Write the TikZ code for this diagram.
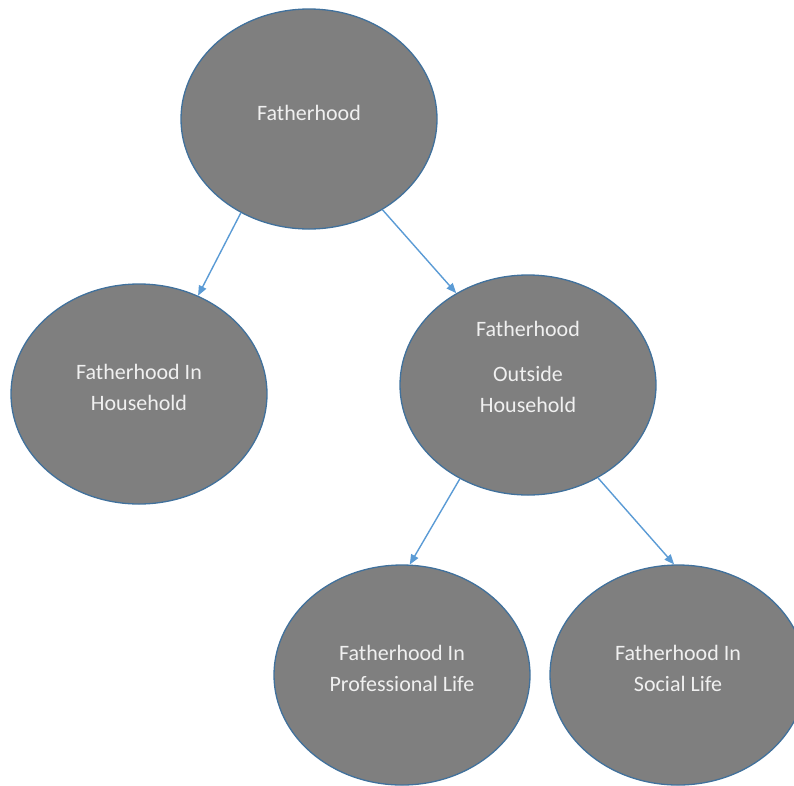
\documentclass[tikz,border=0pt]{standalone}
\usepackage{fontspec}
\setmainfont{Carlito}
\usetikzlibrary{arrows.meta,shapes,positioning}
\definecolor{shapegray}{HTML}{7F7F7F}
\definecolor{edgeblue}{HTML}{41719C}
\definecolor{linkblue}{HTML}{5B9BD5}
\tikzset{
  basic/.style = {draw=edgeblue, line width=1.3pt, fill=shapegray, ellipse,
                  inner sep=0pt, minimum width=256pt, minimum height=220pt,
                  align=center, text=white!94!black, text depth=13pt,
                  font=\fontsize{22}{31.5}\selectfont},
  link/.style  = {->, draw=linkblue, line width=1.4pt}
}

\begin{document}
\begin{tikzpicture}[x=1pt, y=1pt, >={Triangle[length=10pt,width=8pt]}]
\useasboundingbox (0,0) rectangle (794,-785);

\node[basic] (root) at (309,-119) {Fatherhood};
\node[basic] (c1) at (139,-394) {Fatherhood In\\Household};
\node[basic, text depth=36pt] (c2) at (528,-385) {Fatherhood\\[13.5pt]Outside\\Household};
\node[basic] (c21) at (402,-675) {Fatherhood In\\Professional Life};
\node[basic] (c22) at (678,-675) {Fatherhood In\\Social Life};

\draw[link] (root.234) -- (c1.59);
\draw[link] (root.309) -- (c2.128);
\draw[link] (c2.234) -- (c21.86);
\draw[link] (c2.307) -- (c22.92);
\end{tikzpicture}
\end{document}
